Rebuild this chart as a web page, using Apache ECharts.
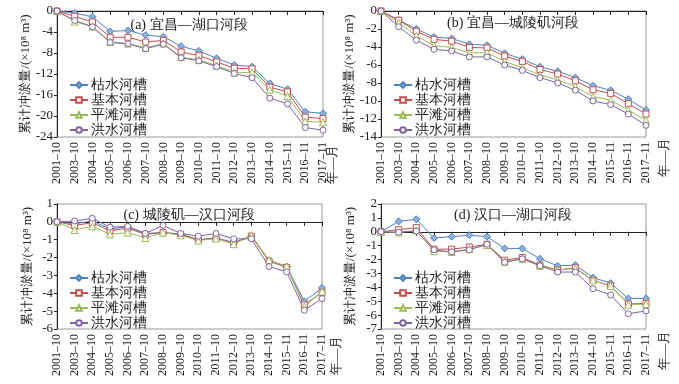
<!DOCTYPE html>
<html><head><meta charset="utf-8">
<script src="https://cdn.jsdelivr.net/npm/echarts@6/dist/echarts.min.js"></script>
<style>html,body{margin:0;padding:0;background:#fff}#c{width:679px;height:384px}</style>
</head><body><div id="c"></div>
<script>
var categories = ['2001–10','2003–10','2004–10','2005–10','2006–10','2007–10','2008–10','2009–10','2010–10','2011–10','2012–10','2013–10','2014–10','2015–11','2016–11','2017–11'];
var seriesNames = ['枯水河槽','基本河槽','平滩河槽','洪水河槽'];
var panelTitles = ['(a) 宜昌—湖口河段','(b) 宜昌—城陵矶河段','(c) 城陵矶—汉口河段','(d) 汉口—湖口河段'];
var yAxisName = '累计冲淤量/(×10⁸ m³)';
var xAxisName = '年—月';

// (a) 宜昌—湖口
var aDry   = [0,-0.4,-1.1,-3.9,-3.7,-4.6,-4.9,-6.7,-7.6,-9.0,-10.3,-10.6,-13.8,-14.9,-19.2,-19.5];
var aBasic = [0,-1.0,-2.1,-5.0,-5.0,-5.9,-5.6,-7.8,-8.5,-9.7,-10.9,-11.0,-14.5,-15.4,-20.2,-20.5];
var aFlat  = [0,-2.0,-3.0,-5.9,-6.2,-7.0,-6.2,-8.8,-9.3,-10.4,-11.7,-11.7,-15.0,-16.2,-21.0,-21.2];
var aFlood = [0,-1.8,-3.0,-6.0,-6.25,-7.2,-6.3,-8.9,-9.5,-10.6,-11.9,-12.7,-16.6,-17.7,-22.2,-22.7];
// (b) 宜昌—城陵矶
var bDry   = [0,-1.0,-2.0,-2.9,-3.05,-3.7,-3.8,-4.7,-5.35,-6.2,-6.7,-7.4,-8.3,-8.8,-9.8,-11.0];
var bBasic = [0,-1.03,-2.25,-3.15,-3.35,-4.05,-4.1,-5.0,-5.6,-6.5,-7.0,-7.75,-8.75,-9.15,-10.3,-11.45];
var bFlat  = [0,-1.3,-2.75,-3.85,-4.05,-4.65,-4.65,-5.6,-6.3,-7.1,-7.65,-8.4,-9.5,-9.9,-11.0,-12.15];
var bFlood = [0,-1.75,-3.25,-4.25,-4.45,-5.1,-5.1,-6.0,-6.6,-7.4,-8.0,-8.8,-10.0,-10.4,-11.45,-12.7];
// (c) 城陵矶—汉口
var cDry   = [0,-0.1,0.05,-0.4,-0.27,-0.65,-0.6,-0.67,-1.0,-0.9,-1.15,-0.8,-2.15,-2.5,-4.45,-3.7];
var cBasic = [0,-0.2,-0.05,-0.5,-0.35,-0.7,-0.6,-0.72,-1.0,-0.93,-1.2,-0.8,-2.2,-2.55,-4.65,-3.95];
var cFlat  = [0,-0.45,-0.25,-0.7,-0.6,-0.9,-0.6,-0.75,-1.05,-0.93,-1.25,-0.75,-2.15,-2.5,-4.75,-3.9];
var cFlood = [0,0.05,0.2,-0.3,-0.25,-0.65,-0.2,-0.65,-0.8,-0.65,-0.95,-0.95,-2.5,-2.8,-4.95,-4.3];
// (d) 汉口—湖口
var dDry   = [0,0.75,0.9,-0.45,-0.35,-0.25,-0.35,-1.2,-1.2,-1.95,-2.45,-2.4,-3.3,-3.7,-4.8,-4.8];
var dBasic = [0,0.15,0.3,-1.25,-1.25,-1.1,-0.9,-2.05,-1.85,-2.4,-2.75,-2.6,-3.5,-3.9,-5.2,-5.15];
var dFlat  = [0,-0.05,0.1,-1.4,-1.45,-1.25,-0.95,-2.15,-1.95,-2.45,-2.75,-2.65,-3.5,-3.9,-5.25,-5.2];
var dFlood = [0,-0.03,0.05,-1.3,-1.45,-1.3,-0.9,-2.2,-1.95,-2.45,-2.9,-2.9,-4.1,-4.55,-5.9,-5.7];

var yMin = [-24,-14,-6,-7], yMax = [0,0,1,2], yInterval = [4,2,1,1];
var panelData = [[aDry,aBasic,aFlat,aFlood],[bDry,bBasic,bFlat,bFlood],[cDry,cBasic,cFlat,cFlood],[dDry,dBasic,dFlat,dFlood]];

var colors = ['#4f81bd','#c0504d','#9bbb59','#8064a2'];
var fills = ['#8fb0dc','#ffffff','#ffffff','#ffffff'];
var symbols = ['diamond','rect','triangle','circle'];
var sizes = [7,6,7,6];

var grids = [
  {left:57, top:11, width:266, height:126},
  {left:381, top:11, width:265, height:126},
  {left:57, top:204, width:265, height:125},
  {left:381, top:204, width:265, height:125}
];
var nameGaps = [23,24,23,24];
var titleDy = [14,12,11,11];
var serif = 'Liberation Serif, serif';

var option = {animation:false, textStyle:{fontFamily:serif}, grid:[], xAxis:[], yAxis:[], series:[], legend:[], graphic:[]};
grids.forEach(function(g,i){
  option.grid.push({left:g.left, top:g.top, width:g.width, height:g.height, show:true, borderColor:'#9a9a9a', borderWidth:1});
  option.xAxis.push({type:'category', gridIndex:i, data:categories, boundaryGap:false,
    axisLine:{lineStyle:{color:'#222'}}, axisTick:{alignWithLabel:true, length:4, lineStyle:{color:'#222'}, interval:0},
    axisLabel:{rotate:90, interval:0, fontSize:12, color:'#222', fontFamily:serif, margin:5},
    splitLine:{show:false}});
  option.yAxis.push({type:'value', gridIndex:i, min:yMin[i], max:yMax[i], interval:yInterval[i],
    name:yAxisName, nameLocation:'middle', nameGap:nameGaps[i], nameRotate:90,
    nameTextStyle:{fontSize:13, color:'#222', fontFamily:serif},
    axisLine:{show:true, lineStyle:{color:'#222'}}, axisTick:{show:true, length:3, lineStyle:{color:'#222'}},
    axisLabel:{fontSize:13, color:'#222', fontFamily:serif, margin:4},
    splitLine:{show:false}});
  for (var k=0;k<4;k++){
    option.series.push({type:'line', name:seriesNames[k], xAxisIndex:i, yAxisIndex:i, data:panelData[i][k],
      color:colors[k], symbol:symbols[k], symbolSize:sizes[k], showAllSymbol:true,
      lineStyle:{width:1, color:colors[k]},
      itemStyle:{color:fills[k], borderColor:colors[k], borderWidth:1}});
  }
  option.legend.push({data:seriesNames, orient:'vertical', left:g.left+7, top:g.top+62, itemGap:1,
    itemWidth:18, itemHeight:7, textStyle:{fontSize:14, color:'#222', fontFamily:serif, padding:[0,0,0,-2]}});
  option.graphic.push({type:'text', x:g.left+132, y:g.top+titleDy[i],
    style:{text:panelTitles[i], fontSize:14, fontFamily:serif, fill:'#222', align:'center', verticalAlign:'middle'}});
});
// axis-end labels 年—月
var ymPos = [[333,164],[665,157],[337,355],[665,350]];
ymPos.forEach(function(p){
  option.graphic.push({type:'text', x:p[0], y:p[1], rotation:Math.PI/2,
    style:{text:xAxisName, fontSize:13, fontFamily:serif, fill:'#222', align:'center', verticalAlign:'middle'}});
});
var chart = echarts.init(document.getElementById('c'), null, {renderer:'canvas'});
chart.setOption(option);
</script></body></html>
